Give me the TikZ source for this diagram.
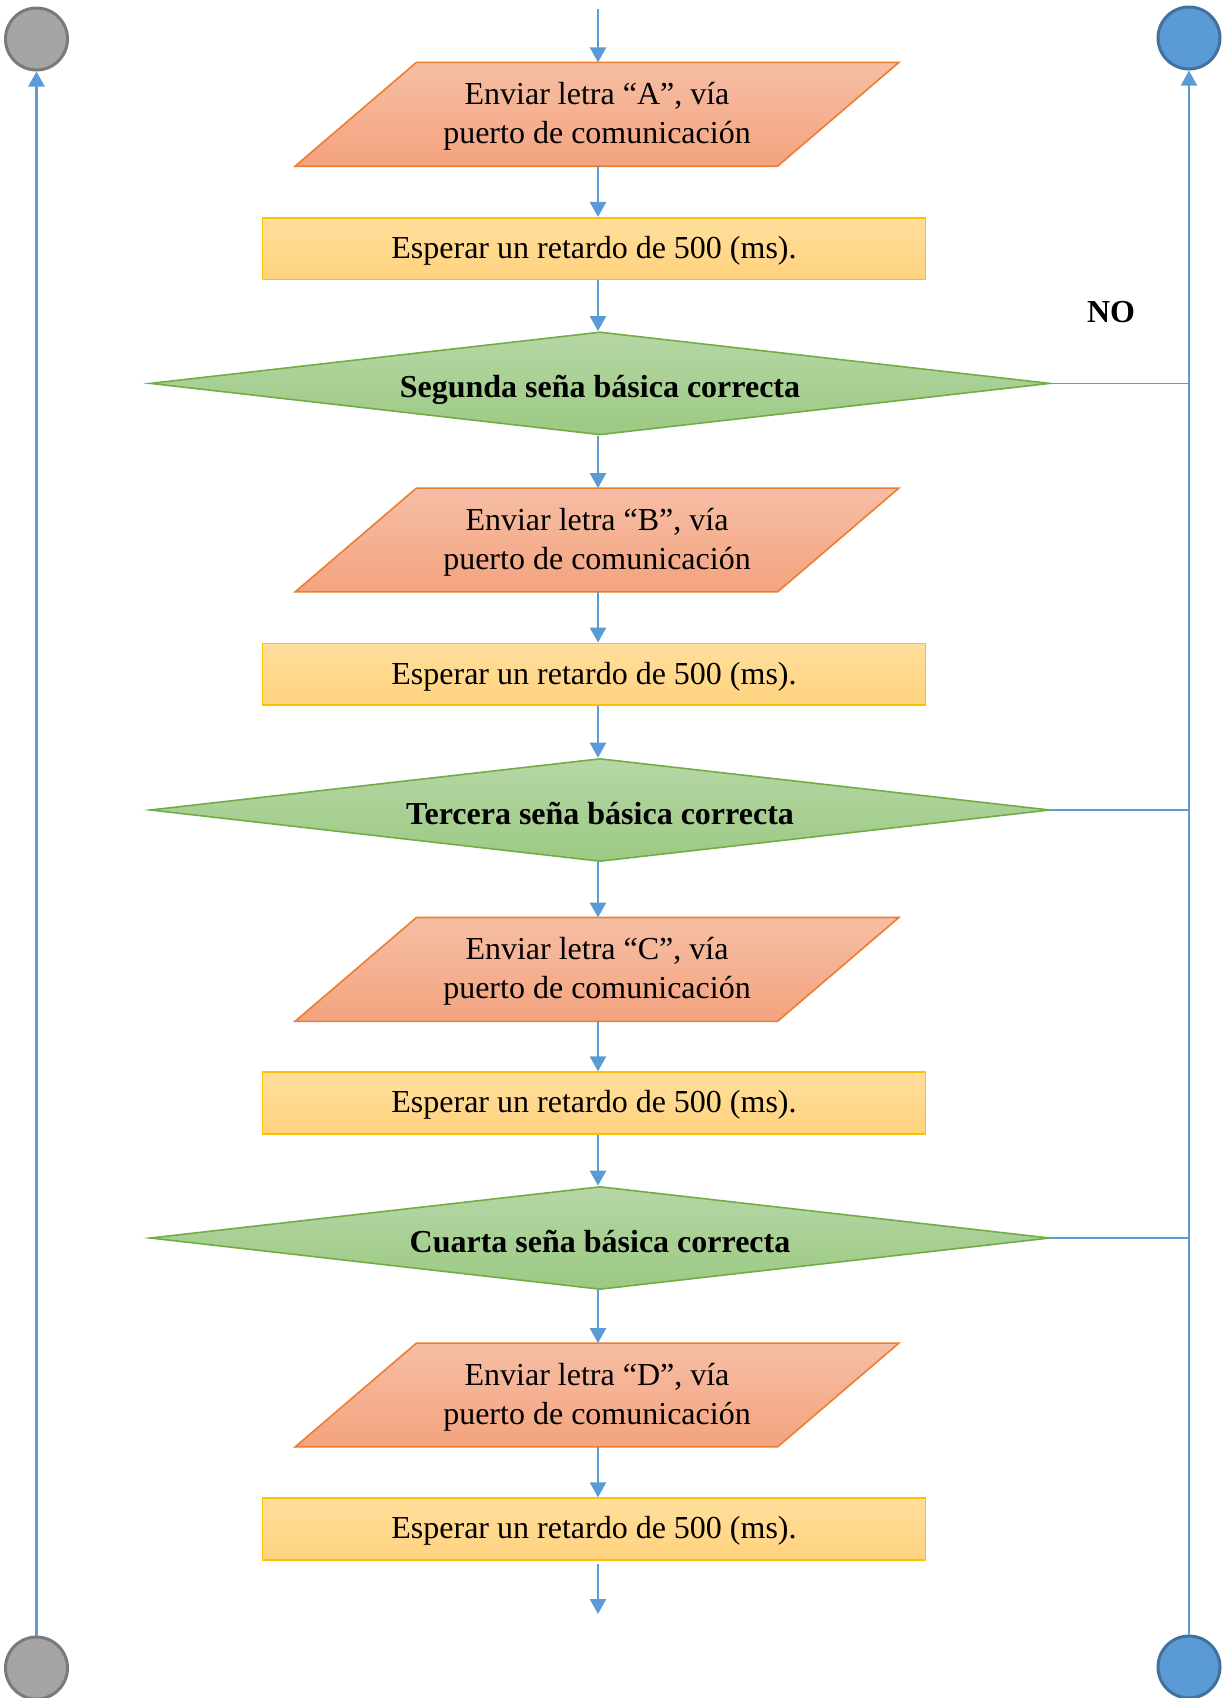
\documentclass[tikz,border=0pt]{standalone}
\usepackage{fontspec}
\setmainfont{Liberation Serif}
\usetikzlibrary{shapes.geometric,arrows.meta,calc}
\pgfdeclarelayer{bg}
\pgfsetlayers{bg,main}
\definecolor{flowblue}{HTML}{5B9BD5}
\definecolor{paraedge}{HTML}{ED7D31}
\definecolor{paratop}{HTML}{F6BEA5}
\definecolor{parabot}{HTML}{F4A37E}
\definecolor{rectedge}{HTML}{FFC000}
\definecolor{recttop}{HTML}{FFDE9C}
\definecolor{rectbot}{HTML}{FFD37E}
\definecolor{decedge}{HTML}{70AD47}
\definecolor{dectop}{HTML}{B6D7A5}
\definecolor{decbot}{HTML}{9CC983}
\definecolor{grayfill}{HTML}{A5A5A5}
\definecolor{grayedge}{HTML}{7A7A7A}
\definecolor{bluefill}{HTML}{5B9BD5}
\definecolor{blueedge}{HTML}{41719C}
\newcommand\drawpara[1]{%
  \begin{pgfonlayer}{bg}
    \path[parashape] ([xshift=60.65pt]#1.north west) -- (#1.north east)
      -- ([xshift=-60.65pt]#1.south east) -- (#1.south west) -- cycle;
  \end{pgfonlayer}}
\newcommand\firststrut{\rule{0pt}{13.2pt}}
\begin{document}
\begin{tikzpicture}[x=0.5pt,y=-0.5pt,
  every node/.style={font=\fontsize{16pt}{19.5pt}\selectfont},
  paratext/.style={rectangle, inner sep=0pt, minimum width=301.5pt, minimum height=51.5pt, align=center},
  parashape/.style={draw=paraedge, line width=0.8pt, top color=paratop, bottom color=parabot},
  rectbox/.style={rectangle, inner sep=0pt, minimum width=331.5pt, minimum height=30.85pt, text height=13.3pt, text depth=3.5pt, draw=rectedge, line width=0.8pt, top color=recttop, bottom color=rectbot},
  decbox/.style={diamond, shape aspect=8.7, inner sep=0pt, minimum width=450pt, minimum height=51.5pt, text height=17.7pt, text depth=3.5pt, draw=decedge, line width=0.8pt, top color=dectop, bottom color=decbot, font=\bfseries\fontsize{16pt}{19.5pt}\selectfont},
  graycirc/.style={circle, inner sep=0pt, minimum size=31pt, fill=grayfill, draw=grayedge, line width=1.5pt},
  bluecirc/.style={circle, inner sep=0pt, minimum size=31pt, fill=bluefill, draw=blueedge, line width=1.5pt},
  flow/.style={draw=flowblue, line width=1.3pt, -{Triangle[width=8pt,length=7.5pt]}},
  thinflow/.style={draw=flowblue, line width=0.85pt, -{Triangle[width=8pt,length=7.5pt]}},
  thinline/.style={draw=flowblue, line width=0.85pt}]
\useasboundingbox (0,0) rectangle (1225,1698);

% main column
\node[paratext] (pA) at (597,114.3) {\firststrut Enviar letra “A”, vía\\puerto de comunicación};
\drawpara{pA}
\node[rectbox] (r1) at (594,248.6) {Esperar un retardo de 500 (ms).};
\node[decbox] (d1) at (600,383.4) {Segunda seña básica correcta};
\node[paratext] (pB) at (597,540) {\firststrut Enviar letra “B”, vía\\puerto de comunicación};
\drawpara{pB}
\node[rectbox] (r2) at (594,674.2) {Esperar un retardo de 500 (ms).};
\node[decbox] (d2) at (600,810) {Tercera seña básica correcta};
\node[paratext] (pC) at (597,969.4) {\firststrut Enviar letra “C”, vía\\puerto de comunicación};
\drawpara{pC}
\node[rectbox] (r3) at (594,1103) {Esperar un retardo de 500 (ms).};
\node[decbox] (d3) at (600,1238) {Cuarta seña básica correcta};
\node[paratext] (pD) at (597,1395) {\firststrut Enviar letra “D”, vía\\puerto de comunicación};
\drawpara{pD}
\node[rectbox] (r4) at (594,1529) {Esperar un retardo de 500 (ms).};

% connector circles
\node[graycirc] (cTL) at (36.5,39) {};
\node[graycirc] (cBL) at (36.5,1668) {};
\node[bluecirc] (cTR) at (1189,38) {};
\node[bluecirc] (cBR) at (1189,1667) {};

\node[font=\bfseries\fontsize{16pt}{19.5pt}\selectfont] (no) at (1111,312) {NO};

\coordinate (topin) at (598,8.7);
\coordinate (botout) at (598,1614);

% flow arrows (all on the column axis x = 598)
\draw[flow] (topin) -- (topin |- pA.north);
\draw[flow] (topin |- pA.south) -- (topin |- r1.north);
\draw[flow] (topin |- r1.south) -- (topin |- d1.north);
\draw[flow] (topin |- d1.south) -- (topin |- pB.north);
\draw[flow] (topin |- pB.south) -- (topin |- r2.north);
\draw[flow] (topin |- r2.south) -- (topin |- d2.north);
\draw[flow] (topin |- d2.south) -- (topin |- pC.north);
\draw[flow] (topin |- pC.south) -- (topin |- r3.north);
\draw[flow] (topin |- r3.south) -- (topin |- d3.north);
\draw[flow] (topin |- d3.south) -- (topin |- pD.north);
\draw[flow] (topin |- pD.south) -- (topin |- r4.north);
\draw[flow, shorten <=1.5pt] (topin |- r4.south) -- (botout);

% side lines
\draw[flow] (cBL.north) -- (cTL.south);
\draw[thinflow] (cBR.north) -- (cTR.south);
\draw[thinline] (d1.east) -- (d1.east -| cTR.south);
\draw[thinline] (d2.east) -- (d2.east -| cTR.south);
\draw[thinline] (d3.east) -- (d3.east -| cTR.south);
\end{tikzpicture}
\end{document}
